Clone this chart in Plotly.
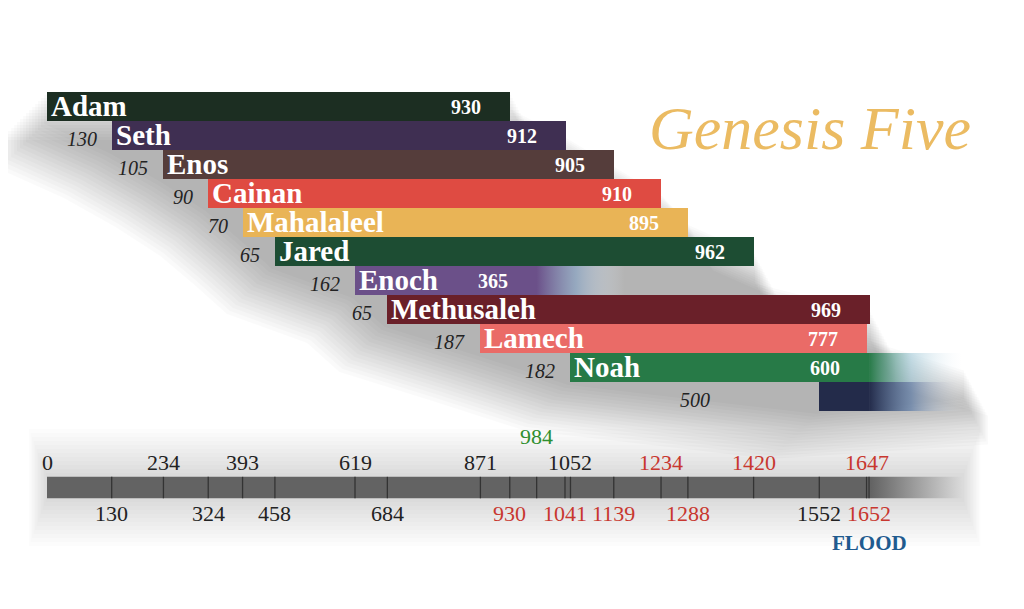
"""Genesis Five: lifespans of the patriarchs laid out as a staircase timeline."""

import plotly.graph_objects as go

# ---- data ---------------------------------------------------------------
names = ["Adam", "Seth", "Enos", "Cainan", "Mahalaleel", "Jared",
         "Enoch", "Methusaleh", "Lamech", "Noah", ""]
births = [0, 130, 234, 324, 393, 458, 619, 684, 871, 1052, 1552]
lifespans = [930, 912, 905, 910, 895, 962, 365, 969, 777, 600, 100]
# age of each father when the next patriarch was born (shown left of the son's bar)
begat_ages = [130, 105, 90, 70, 65, 162, 65, 187, 182, 500]
bar_colors = ["#1c2e22", "#3f2f52", "#553d3b", "#df4b42", "#e9b456", "#1d4d33",
              "#6b5089", "#6a2029", "#ea6b67", "#277a47", "#232b4a"]
show_life = [True] * 10 + [False]

ticks_above = [0, 234, 393, 619, 871, 1052, 1234, 1420, 1647]
colors_above = ["#222"] * 6 + ["#c8372f"] * 3
ticks_below = [130, 324, 458, 684, 930, 1041, 1139, 1288, 1552, 1652]
colors_below = ["#222"] * 4 + ["#c8372f"] * 4 + ["#222", "#c8372f"]
enoch_year = 984
flood_year = 1652

# rows that continue past their bar with a soft fade: row -> (fade_to, mid colour)
fades = {6: (1160, "rgba(140,165,195,0.75)"),
         9: (1840, "rgba(160,200,215,0.6)"),
         10: (1840, "rgba(80,115,165,0.6)")}

TL_ROW = 13.14          # timeline position in row units
TL_HALF = 0.37
SERIF = "Liberation Serif"
PX = 1 / 0.4976         # years per pixel
ROW = 1 / 29            # rows per pixel

rows = list(range(len(names)))
deaths = [b + l for b, l in zip(births, lifespans)]
ends = [fades[r][0] if r in fades else deaths[r] for r in rows]
hull_right = [max(ends[:r + 1]) for r in rows]

fig = go.Figure()

# ---- soft drop shadow under the staircase (shapes sit below the traces) ----
for k in range(1, 17):
    L, R, D = 3.0 * k * PX, 1.6 * k * PX, 3.0 * k * ROW
    pts = [(births[0] - L, -0.5 + D)]
    pts += [(births[r] - L, r + 0.5 + D) for r in rows]
    pts += [(hull_right[r] + R, r + D) for r in reversed(rows)]
    pts += [(hull_right[0] + R, -0.5 + D)]
    path = "M " + " L ".join(f"{x:.1f},{y:.3f}" for x, y in pts) + " Z"
    fig.add_shape(type="path", path=path, layer="below", line=dict(width=0),
                  fillcolor="rgba(0,0,0,0.018)")

# timeline glow
for k in range(1, 13):
    fig.add_shape(type="rect", layer="below", line=dict(width=0),
                  x0=-1.5 * k * PX, x1=1840 + 1.5 * k * PX,
                  y0=TL_ROW - TL_HALF - 4 * k * ROW, y1=TL_ROW + TL_HALF + 4 * k * ROW,
                  fillcolor="rgba(0,0,0,0.01)")

# ---- fades past the end of some bars -------------------------------------
for r, (fade_to, mid) in fades.items():
    x0 = deaths[r]
    fig.add_trace(go.Scatter(
        x=[x0, fade_to, fade_to, x0, x0],
        y=[r - 0.5, r - 0.5, r + 0.5, r + 0.5, r - 0.5],
        fill="toself", mode="lines", line=dict(width=0),
        fillgradient=dict(type="horizontal", start=x0, stop=fade_to,
                          colorscale=[[0, bar_colors[r]], [0.45, mid],
                                      [1, "rgba(235,242,248,0)"]]),
        hoverinfo="skip", showlegend=False))

# ---- the bars -------------------------------------------------------------
fig.add_trace(go.Bar(
    y=rows, x=lifespans, base=births, orientation="h", width=1,
    marker=dict(color=bar_colors, line=dict(width=0)),
    hoverinfo="skip", showlegend=False))

for r in rows:
    if names[r]:
        fig.add_annotation(x=births[r], y=r, text=f"<b>{names[r]}</b>",
                           xanchor="left", xshift=2, yshift=1, showarrow=False,
                           font=dict(family=SERIF, size=29, color="white"))
    if show_life[r]:
        fig.add_annotation(x=deaths[r], y=r, text=f"<b>{lifespans[r]}</b>",
                           xanchor="right", xshift=-27, showarrow=False,
                           font=dict(family=SERIF, size=20, color="white"))

for i, age in enumerate(begat_ages):
    r = i + 1
    if r < len(rows) - 1:
        fig.add_annotation(x=births[r], y=r, text=f"<i>{age}</i>", xanchor="right",
                           xshift=-13, yshift=-3, showarrow=False,
                           font=dict(family=SERIF, size=20, color="#222"))
    else:
        fig.add_annotation(x=(births[r - 1] + births[r]) / 2, y=r, text=f"<i>{age}</i>",
                           yshift=-3, showarrow=False,
                           font=dict(family=SERIF, size=20, color="#222"))

# ---- timeline -------------------------------------------------------------
fig.add_trace(go.Scatter(
    x=[0, 1840, 1840, 0, 0],
    y=[TL_ROW - TL_HALF, TL_ROW - TL_HALF, TL_ROW + TL_HALF, TL_ROW + TL_HALF,
       TL_ROW - TL_HALF],
    fill="toself", mode="lines", line=dict(width=0),
    fillgradient=dict(type="horizontal", start=0, stop=1840,
                      colorscale=[[0, "#636363"], [0.9, "#636363"],
                                  [1, "rgba(99,99,99,0)"]]),
    hoverinfo="skip", showlegend=False))

tick_x, tick_y = [], []
for t in ticks_above[1:] + ticks_below + [enoch_year]:
    tick_x += [t, t, None]
    tick_y += [TL_ROW - TL_HALF, TL_ROW + TL_HALF, None]
fig.add_trace(go.Scatter(x=tick_x, y=tick_y, mode="lines",
                         line=dict(color="#333", width=1.3),
                         hoverinfo="skip", showlegend=False))

for t, c in zip(ticks_above, colors_above):
    fig.add_annotation(x=t, y=TL_ROW - TL_HALF, text=str(t), yanchor="bottom",
                       showarrow=False, font=dict(family=SERIF, size=22, color=c))
for t, c in zip(ticks_below, colors_below):
    fig.add_annotation(x=t, y=TL_ROW + TL_HALF, text=str(t), yanchor="top",
                       yshift=-1, showarrow=False,
                       font=dict(family=SERIF, size=22, color=c))
fig.add_annotation(x=enoch_year, y=TL_ROW - TL_HALF, text=str(enoch_year),
                   yanchor="bottom", yshift=26, showarrow=False,
                   font=dict(family=SERIF, size=22, color="#2f8f2f"))
fig.add_annotation(x=flood_year, y=TL_ROW + TL_HALF, text="<b>FLOOD</b>",
                   yanchor="top", yshift=-31, showarrow=False,
                   font=dict(family=SERIF, size=21, color="#1f5b8f"))

# ---- title ------------------------------------------------------------------
fig.add_annotation(xref="paper", yref="paper", x=0.783, y=0.803,
                   xanchor="center", yanchor="middle",
                   text="<i>Genesis Five</i>", showarrow=False,
                   font=dict(family=SERIF, size=62, color="#ebbb62"))

# page body adds an 8px margin, so: year 0 at fig px 39, 1652 at 861;
# row 0 centred at fig px 98.5, 29 px per row
fig.update_layout(
    width=1024, height=609, margin=dict(l=0, r=0, t=0, b=0),
    paper_bgcolor="white", plot_bgcolor="white",
    xaxis=dict(range=[-39 * PX, (1024 - 39) * PX], visible=False, fixedrange=True),
    yaxis=dict(range=[(609 - 98.5) * ROW, -98.5 * ROW], visible=False, fixedrange=True),
    bargap=0,
)

fig.write_html("out.html")
